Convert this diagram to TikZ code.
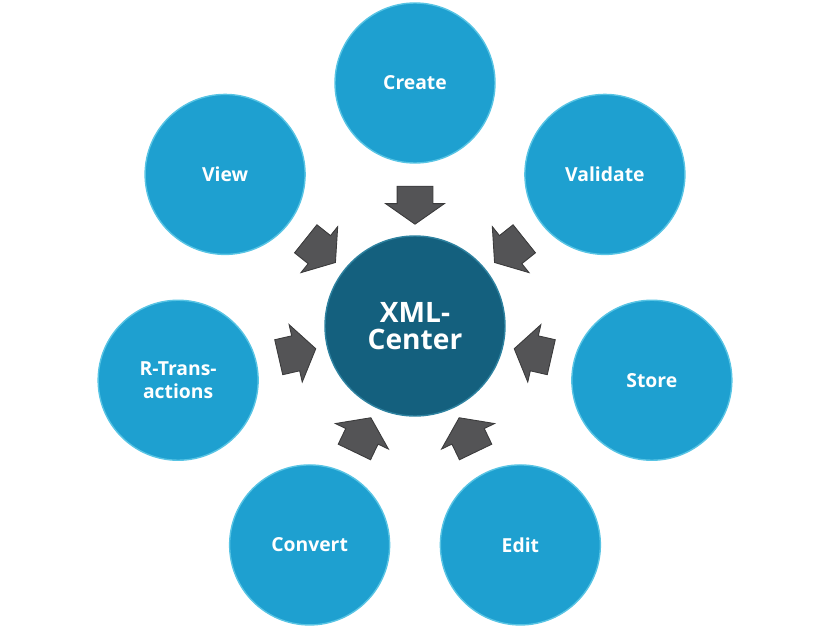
\documentclass[tikz,border=0pt]{standalone}
\usepackage{fontspec}
\setmainfont{Open Sans}
\usetikzlibrary{positioning, calc, shapes.arrows}
\definecolor{ballcol}{RGB}{30, 160, 208}
\definecolor{ballrim}{RGB}{88, 196, 228}
\definecolor{hubcol}{RGB}{20, 96, 126}
\definecolor{hubrim}{RGB}{46, 130, 160}
\definecolor{arrowcol}{RGB}{84, 84, 86}
\tikzset{
  ball/.style={circle, fill=ballcol, draw=ballrim, line width=0.8pt, minimum size=3.2cm,
               align=center, text=white, font=\fontsize{11}{13}\selectfont\bfseries, inner sep=0pt},
  hub/.style={circle, fill=hubcol, draw=hubrim, line width=0.8pt, minimum size=3.6cm,
              align=center, text=white, font=\fontsize{16}{15}\selectfont\bfseries, inner sep=0pt},
  pusher/.style={single arrow, fill=arrowcol, draw=arrowcol!70!black, line width=0.5pt,
                 minimum height=0.76cm, minimum width=1.16cm, inner xsep=0pt, inner ysep=0.35cm,
                 single arrow head extend=0.23cm, single arrow tip angle=110},
}

\begin{document}
\begin{tikzpicture}
  \useasboundingbox (-8.3,-6.06) rectangle (8.3,6.52);
  % --- Hub ---
  \node[hub] (xml) at (0,0) {XML-\\Center};

  % --- Outer ring ---
  \node[ball] (create)   at (90:4.86)    {Create};
  \node[ball] (view)     at (141.4:4.86) {View};
  \node[ball] (rtrans)   at (192.9:4.86) {R-Trans-\\actions};
  \node[ball] (convert)  at (244.3:4.86) {Convert};
  \node[ball] (edit)     at (295.7:4.86) {Edit};
  \node[ball] (store)    at (347.1:4.86) {Store};
  \node[ball] (validate) at (38.6:4.86)  {Validate};

  % --- Arrows into the hub ---
  \node[pusher, rotate=270]   (a1) at ($(xml)!0.523!(create)$)   {};
  \node[pusher, rotate=321.4] (a2) at ($(xml)!0.523!(view)$)     {};
  \node[pusher, rotate=12.9]  (a3) at ($(xml)!0.523!(rtrans)$)   {};
  \node[pusher, rotate=64.3]  (a4) at ($(xml)!0.523!(convert)$)  {};
  \node[pusher, rotate=115.7] (a5) at ($(xml)!0.523!(edit)$)     {};
  \node[pusher, rotate=167.1] (a6) at ($(xml)!0.523!(store)$)    {};
  \node[pusher, rotate=218.6] (a7) at ($(xml)!0.523!(validate)$) {};
\end{tikzpicture}
\end{document}
